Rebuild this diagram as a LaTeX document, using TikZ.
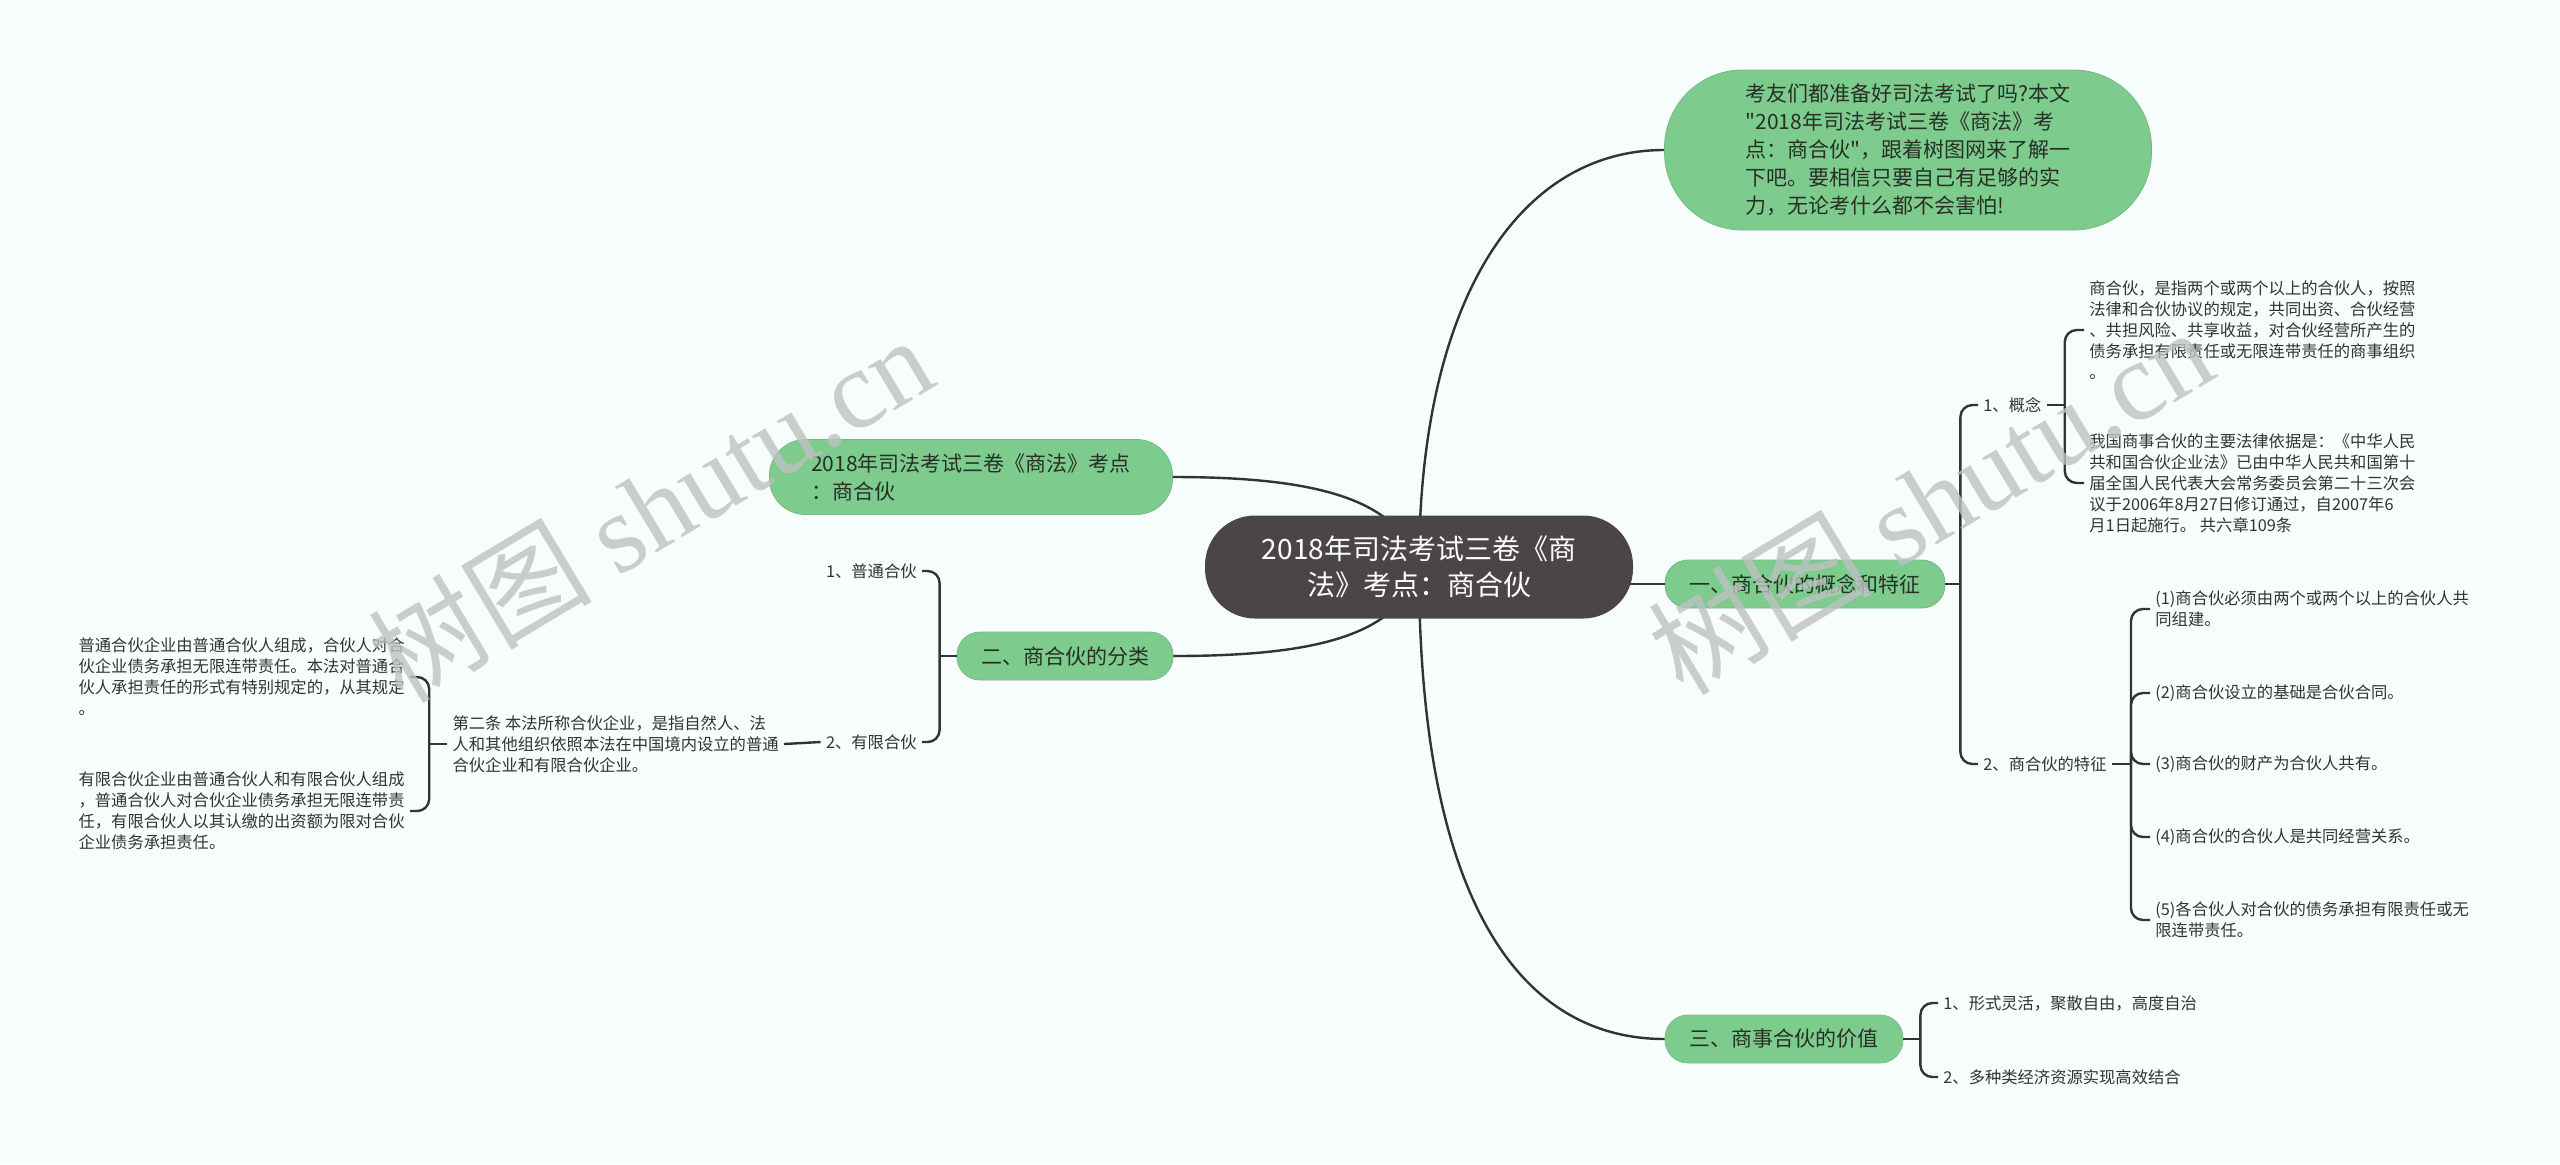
\documentclass[tikz,border=0pt]{standalone}
\usepackage{fontspec}
\setmainfont{Noto Sans CJK SC}[Ligatures=TeXOff]
\newfontfamily\wmfont{Liberation Serif}
\usetikzlibrary{calc}
\definecolor{bgc}{RGB}{247,252,253}
\definecolor{leaf}{RGB}{126,203,142}
\definecolor{rootc}{RGB}{75,70,70}
\definecolor{linec}{RGB}{51,51,51}
\definecolor{inkc}{RGB}{38,48,38}
\definecolor{wmc}{RGB}{190,194,194}
\tikzset{
 pill/.style={fill=leaf,draw=leaf!92!black,line width=0.4pt,text=inkc,font=\fontsize{10.5pt}{14pt}\selectfont,inner sep=0pt},
 gbar/.style={pill,minimum height=24pt,rounded corners=11.5pt},
 rootbox/.style={fill=rootc,text=white,minimum width=214pt,minimum height=51.5pt,rounded corners=25pt,align=center,font=\fontsize{14pt}{18pt}\selectfont,inner sep=0pt},
 leaftxt/.style={text=linec,font=\fontsize{8.15pt}{10.5pt}\selectfont,inner sep=2.5pt,align=left},
 link/.style={draw=linec,line width=1.2pt},
 brace/.style={link,rounded corners=6pt},
 wm/.style={text=wmc,opacity=0.8,font=\fontsize{56pt}{56pt}\selectfont}
}
\begin{document}
\begin{tikzpicture}[x=0.5pt,y=-0.5pt]
\fill[bgc] (0,0) rectangle (2560,1164);
\coordinate (hub) at (1419,567);
\node[pill,minimum width=243.5pt,minimum height=80pt,rounded corners=39pt,align=left] (intro) at (1908,150){考友们都准备好司法考试了吗?本文\\"2018年司法考试三卷《商法》考\\点：商合伙"，跟着树图网来了解一\\下吧。要相信只要自己有足够的实\\力，无论考什么都不会害怕!};
\node[pill,minimum width=201.5pt,minimum height=37.5pt,rounded corners=18pt,align=left] (lt) at (971,477){2018年司法考试三卷《商法》考点\\：商合伙};
\node[gbar,minimum width=140pt] (n1) at (1805,584){一、商合伙的概念和特征};
\node[gbar,minimum width=108pt] (n2) at (1065,656){二、商合伙的分类};
\node[gbar,minimum width=119pt] (n3) at (1784,1039){三、商事合伙的价值};
\node[leaftxt,anchor=west] (c1) at (1978,405){1、概念};
\node[leaftxt,anchor=west] (c2) at (1978,764){2、商合伙的特征};
\node[leaftxt,anchor=west] (d1) at (2084,330){商合伙，是指两个或两个以上的合伙人，按照\\法律和合伙协议的规定，共同出资、合伙经营\\、共担风险、共享收益，对合伙经营所产生的\\债务承担有限责任或无限连带责任的商事组织\\。};
\node[leaftxt,anchor=west] (d2) at (2084,483){我国商事合伙的主要法律依据是：《中华人民\\共和国合伙企业法》已由中华人民共和国第十\\届全国人民代表大会常务委员会第二十三次会\\议于2006年8月27日修订通过，自2007年6\\月1日起施行。 共六章109条};
\node[leaftxt,anchor=west] (e1) at (2150,609){(1)商合伙必须由两个或两个以上的合伙人共\\同组建。};
\node[leaftxt,anchor=west] (e2) at (2150,693){(2)商合伙设立的基础是合伙合同。};
\node[leaftxt,anchor=west] (e3) at (2150,764){(3)商合伙的财产为合伙人共有。};
\node[leaftxt,anchor=west] (e4) at (2150,837){(4)商合伙的合伙人是共同经营关系。};
\node[leaftxt,anchor=west] (e5) at (2150,920){(5)各合伙人对合伙的债务承担有限责任或无\\限连带责任。};
\node[leaftxt,anchor=west] (v1) at (1938,1003){1、形式灵活，聚散自由，高度自治};
\node[leaftxt,anchor=west] (v2) at (1938,1077){2、多种类经济资源实现高效结合};
\node[leaftxt,anchor=east] (p1) at (922,571){1、普通合伙};
\node[leaftxt,anchor=east] (p2) at (922,742){2、有限合伙};
\node[leaftxt,anchor=east] (law) at (784,744){第二条 本法所称合伙企业，是指自然人、法\\人和其他组织依照本法在中国境内设立的普通\\合伙企业和有限合伙企业。};
\node[leaftxt,anchor=east] (g1) at (410,677){普通合伙企业由普通合伙人组成，合伙人对合\\伙企业债务承担无限连带责任。本法对普通合\\伙人承担责任的形式有特别规定的，从其规定\\。};
\node[leaftxt,anchor=east] (g2) at (410,811){有限合伙企业由普通合伙人和有限合伙人组成\\，普通合伙人对合伙企业债务承担无限连带责\\任，有限合伙人以其认缴的出资额为限对合伙\\企业债务承担责任。};
\draw[link] (hub) .. controls +(0,-267) and +(-145,0) .. (intro.west);
\draw[link] (hub) .. controls +(0,333) and +(-145,0) .. (n3.west);
\draw[link] (lt.east) .. controls +(147,0) and +(-19,-67) .. (hub);
\draw[link] (n2.east) .. controls +(147,0) and +(-19,67) .. (hub);
\draw[link] (hub |- n1.west) -- (n1.west);
\draw[link] (n1.east) -- ++(15,0) coordinate (b1);
\foreach \k in {c1,c2} \draw[brace] (b1) |- (\k.west);
\draw[link] (c1.east) -- ++(18,0) coordinate (b2);
\foreach \k in {d1,d2} \draw[brace] (b2) |- (\k.west);
\draw[link] (c2.east) -- ++(19,0) coordinate (b3);
\foreach \k in {1,...,5} \draw[brace] (b3) |- (e\k.west);
\draw[link] (n3.east) -- ++(17,0) coordinate (b4);
\foreach \k in {v1,v2} \draw[brace] (b4) |- (\k.west);
\draw[link] (n2.west) -- ++(-17,0) coordinate (b5);
\foreach \k in {p1,p2} \draw[brace] (b5) |- (\k.east);
\draw[link] (p2.west) -- (law.east);
\draw[link] (law.west) -- ++(-18,0) coordinate (b6);
\foreach \k in {g1,g2} \draw[brace] (b6) |- (\k.east);
\node[rootbox] (root) at (hub){2018年司法考试三卷《商\\法》考点：商合伙};
\node[wm,rotate=31] (wm1) at (650,508){树图 {\wmfont shutu.cn}};
\node[wm,rotate=31] (wm2) at (1930,500){树图 {\wmfont shutu.cn}};
\end{tikzpicture}
\end{document}
